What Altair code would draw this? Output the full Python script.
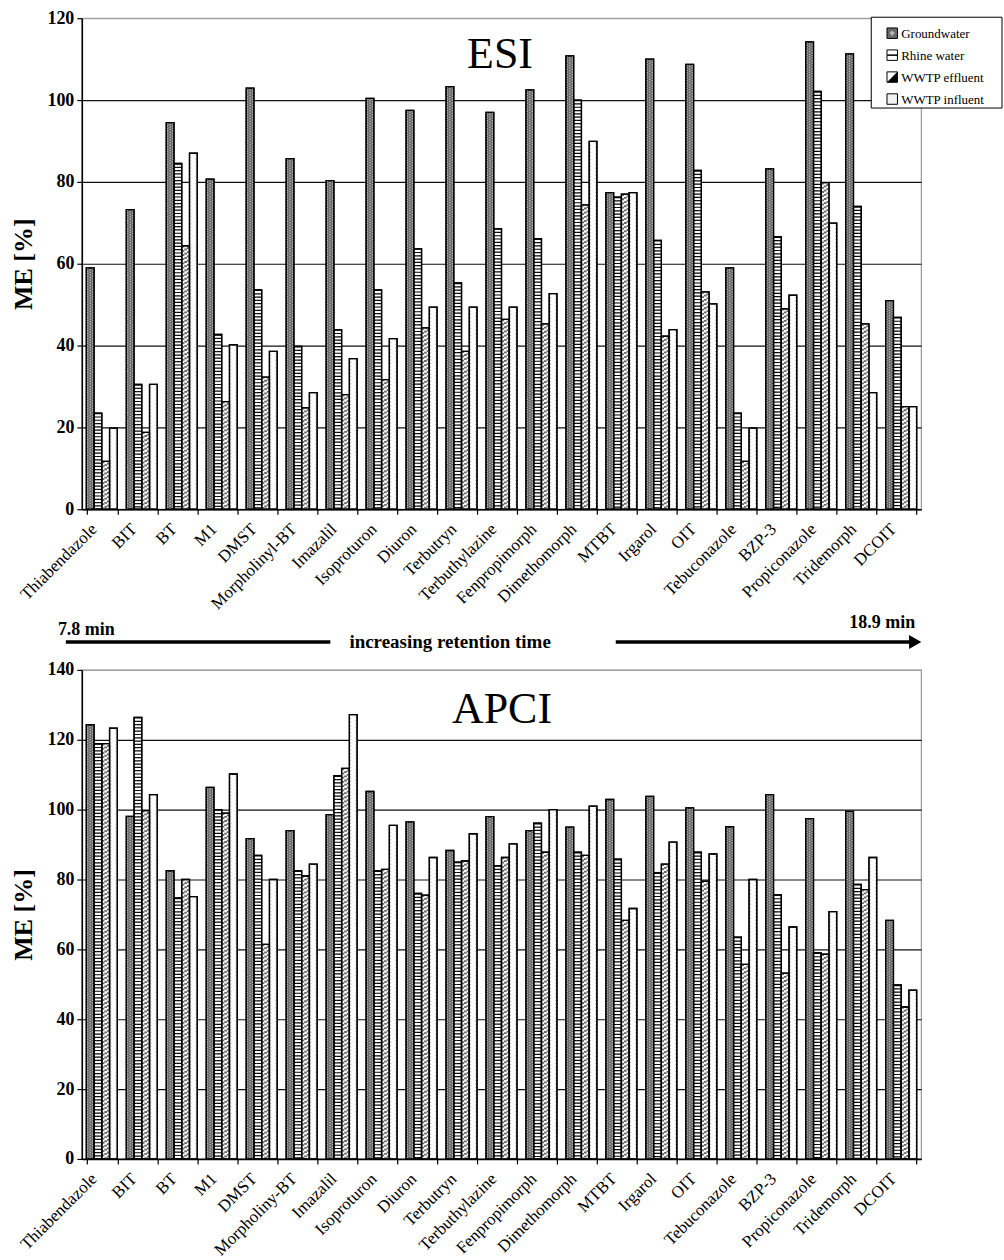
import altair as alt
import pandas as pd

categories_esi = ["Thiabendazole", "BIT", "BT", "M1", "DMST", "Morpholinyl-BT", "Imazalil",
                  "Isoproturon", "Diuron", "Terbutryn", "Terbuthylazine", "Fenpropimorph",
                  "Dimethomorph", "MTBT", "Irgarol", "OIT", "Tebuconazole", "BZP-3",
                  "Propiconazole", "Tridemorph", "DCOIT"]
categories_apci = ["Thiabendazole", "BIT", "BT", "M1", "DMST", "Morpholiny-BT", "Imazalil",
                   "Isoproturon", "Diuron", "Terbutryn", "Terbuthylazine", "Fenpropimorph",
                   "Dimethomorph", "MTBT", "Irgarol", "OIT", "Tebuconazole", "BZP-3",
                   "Propiconazole", "Tridemorph", "DCOIT"]
series_names = ["Groundwater", "Rhine water", "WWTP effluent", "WWTP influent"]

esi_groundwater = [59.0, 73.2, 94.5, 80.7, 102.9, 85.7, 80.3, 100.4, 97.5, 103.3, 97.0, 102.5,
                   110.8, 77.4, 110.0, 108.7, 59.0, 83.2, 114.2, 111.3, 51.0]
esi_rhine = [23.5, 30.5, 84.5, 42.7, 53.6, 39.8, 43.9, 53.6, 63.7, 55.3, 68.6, 66.1,
             100.0, 76.3, 65.7, 82.8, 23.5, 66.6, 102.1, 74.0, 46.9]
esi_effluent = [11.7, 18.8, 64.4, 26.3, 32.3, 24.8, 28.0, 31.7, 44.3, 38.6, 46.4, 45.3,
                74.4, 77.0, 42.3, 53.1, 11.7, 49.0, 79.8, 45.3, 25.1]
esi_influent = [19.8, 30.5, 87.0, 40.2, 38.6, 28.5, 36.8, 41.7, 49.4, 49.4, 49.4, 52.7,
                89.9, 77.4, 43.9, 50.2, 19.8, 52.3, 69.9, 28.5, 25.1]

apci_groundwater = [124.3, 98.1, 82.5, 106.4, 91.7, 94.0, 98.6, 105.2, 96.5, 88.3, 98.0, 94.0,
                    95.0, 102.9, 103.8, 100.5, 95.1, 104.3, 97.4, 99.5, 68.3]
apci_rhine = [118.9, 126.4, 74.7, 100.0, 86.9, 82.5, 109.7, 82.5, 76.0, 85.0, 84.0, 96.1,
              87.8, 85.8, 81.9, 87.8, 63.5, 75.6, 59.0, 78.6, 49.8]
apci_effluent = [118.9, 99.7, 80.0, 99.0, 61.4, 81.0, 111.8, 82.9, 75.5, 85.3, 86.3, 87.8,
                 86.9, 68.3, 84.4, 79.5, 55.7, 53.2, 58.6, 77.1, 43.5]
apci_influent = [123.3, 104.3, 75.1, 110.2, 80.0, 84.4, 127.2, 95.5, 86.3, 93.1, 90.2, 100.0,
                 101.0, 71.7, 90.7, 87.3, 80.0, 66.4, 70.8, 86.3, 48.3]

FONT = "Liberation Serif"
W = 841
SUB_DOMAIN = [f"{s}|{k}" for s in series_names for k in range(3)]


def make_df(cats, series_lists):
    rows = []
    for i, c in enumerate(cats):
        for s, vals in zip(series_names, series_lists):
            rows.append({"category": c, "series": s, "value": vals[i]})
    return pd.DataFrame(rows)


def legend_layers():
    one = pd.DataFrame({"t": ["x"]})
    out = [alt.Chart(one).mark_rect(fill="white", stroke="black", strokeWidth=1).encode(
        x=alt.value(791), x2=alt.value(922), y=alt.value(-1), y2=alt.value(90))]
    sym_fill = ["#6a6a6a", "white", "white", "#f2f2f2"]
    sx = 812
    for i, s in enumerate(series_names):
        yy = 15 + 22 * i
        out.append(alt.Chart(one).mark_square(size=110, fill=sym_fill[i], stroke="black",
                                              strokeWidth=1, opacity=1).encode(
            x=alt.value(sx), y=alt.value(yy)))
        if s == "Rhine water":
            out.append(alt.Chart(one).mark_rule(color="black", strokeWidth=1.5).encode(
                x=alt.value(sx - 5), x2=alt.value(sx + 5), y=alt.value(yy)))
        if s == "WWTP effluent":
            out.append(alt.Chart(one).mark_point(shape="M1,-1L1,1L-1,1Z", filled=True,
                                                 color="black", size=100, opacity=1).encode(
                x=alt.value(sx), y=alt.value(yy)))
        if s == "Groundwater":
            out.append(alt.Chart(one).mark_point(shape="cross", filled=True, color="#bdbdbd",
                                                 size=20, opacity=1).encode(
                x=alt.value(sx), y=alt.value(yy)))
        out.append(alt.Chart(pd.DataFrame({"t": [s]})).mark_text(
            font=FONT, fontSize=13, color="black", align="left", baseline="middle").encode(
            x=alt.value(sx + 9), y=alt.value(yy + 1), text="t:N"))
    return out


def panel(df, cats, ymax, height, label, label_x, label_y, show_legend, extras=None):
    x = alt.X("category:N", sort=cats,
              scale=alt.Scale(domain=cats, paddingInner=0.225, paddingOuter=0.1125),
              axis=alt.Axis(title=None, labelAngle=-45, labelAlign="right", labelBaseline="middle",
                            labelPadding=12, labelOffset=-8, labelFont=FONT, labelFontSize=17,
                            labelColor="black", labelOverlap=False, labelBound=False,
                            tickBand="extent", tickSize=5, tickColor="black", tickWidth=1.2,
                            domainColor="black", domainWidth=1.5, grid=False))
    xo = alt.XOffset("series:N", sort=series_names,
                     scale=alt.Scale(domain=series_names, paddingInner=0, paddingOuter=0))
    xs = alt.XOffset("sub:N", sort=SUB_DOMAIN,
                     scale=alt.Scale(domain=SUB_DOMAIN, paddingInner=0, paddingOuter=0))
    y = alt.Y("value:Q", scale=alt.Scale(domain=[0, ymax], nice=False, zero=True),
              axis=alt.Axis(values=list(range(0, ymax + 1, 20)), title="ME [%]",
                            titleFont=FONT, titleFontSize=26, titleFontWeight="bold",
                            titleColor="black", titleX=-58, titleY=height / 2,
                            titleBaseline="middle", titleAlign="center",
                            labelFont=FONT, labelFontSize=18, labelFontWeight="bold",
                            labelColor="black", labelPadding=3, tickSize=5, tickColor="black",
                            tickWidth=1.2, domainColor="black", domainWidth=1.5,
                            grid=True, gridWidth=1.2,
                            gridColor={"condition": {"test": f"datum.value >= {ymax}",
                                                     "value": "#a0a0a0"},
                                       "value": "#111111"}))
    base = alt.Chart(df)
    fill = alt.Fill("series:N", scale=alt.Scale(domain=series_names,
                                                 range=["#6a6a6a", "white", "white", "white"]),
                    legend=None)
    layers = []
    layers.append(base.mark_bar(stroke="black", strokeWidth=1.3).encode(
        x=x, xOffset=xo, y=y, fill=fill))

    def stripes(series, k, color, width, dash, offset):
        return base.transform_filter(alt.datum.series == series).transform_calculate(
            sub=f"datum.series + '|{k}'").mark_rule(
            stroke=color, strokeWidth=width, strokeDash=dash,
            strokeDashOffset=offset).encode(x=x, xOffset=xs, y=y, y2=alt.datum(0))

    # groundwater: dark with light dots
    layers.append(stripes("Groundwater", 0, "#b8b8b8", 1.3, [1.3, 1.3], 0))
    layers.append(stripes("Groundwater", 1, "#b8b8b8", 1.3, [1.3, 1.3], 1.3))
    layers.append(stripes("Groundwater", 2, "#b8b8b8", 1.3, [1.3, 1.3], 0))
    # Rhine water: horizontal black lines
    for k in range(3):
        layers.append(stripes("Rhine water", k, "black", 2.7, [1.2, 2.1], 0))
    # WWTP effluent: diagonal hatch
    for k in range(3):
        layers.append(stripes("WWTP effluent", k, "#666666", 2.7, [1.8, 2.4], 1.4 * k))
    # WWTP influent: light dots
    layers.append(stripes("WWTP influent", 0, "#a8a8a8", 1.0, [1.0, 2.5], 0))
    layers.append(stripes("WWTP influent", 2, "#a8a8a8", 1.0, [1.0, 2.5], 1.75))
    # outlines on top
    layers.append(base.mark_bar(stroke="black", strokeWidth=1.3, fillOpacity=0).encode(
        x=x, xOffset=xo, y=y))

    if show_legend:
        layers.extend(legend_layers())

    title_df = pd.DataFrame({"t": [label]})
    layers.append(alt.Chart(title_df).mark_text(font=FONT, fontSize=44, color="black",
                                                baseline="alphabetic", align="center").encode(
        x=alt.value(label_x), y=alt.value(label_y), text="t:N"))
    if extras:
        layers.extend(extras)

    return alt.layer(*layers).resolve_scale(xOffset="independent").properties(
        width=W, height=height)


one = pd.DataFrame({"t": ["7.8 min"]})
extras_top = [
    alt.Chart(pd.DataFrame({"t": ["7.8 min"]})).mark_text(
        font=FONT, fontSize=18, fontWeight="bold", color="black", align="left",
        baseline="middle").encode(x=alt.value(-24), y=alt.value(613), text="t:N"),
    alt.Chart(pd.DataFrame({"t": ["18.9 min"]})).mark_text(
        font=FONT, fontSize=18, fontWeight="bold", color="black", align="right",
        baseline="middle").encode(x=alt.value(835), y=alt.value(606), text="t:N"),
    alt.Chart(pd.DataFrame({"t": ["increasing retention time"]})).mark_text(
        font=FONT, fontSize=19, fontWeight="bold", color="black", align="center",
        baseline="middle").encode(x=alt.value(369), y=alt.value(625), text="t:N"),
    alt.Chart(one).mark_rule(color="black", strokeWidth=3.5).encode(
        x=alt.value(-16), x2=alt.value(249), y=alt.value(625)),
    alt.Chart(one).mark_rule(color="black", strokeWidth=3.5).encode(
        x=alt.value(535), x2=alt.value(830), y=alt.value(625)),
    alt.Chart(one).mark_point(shape="triangle-right", filled=True, color="black",
                              size=200, opacity=1).encode(
        x=alt.value(835), y=alt.value(625)),
]

df_esi = make_df(categories_esi, [esi_groundwater, esi_rhine, esi_effluent, esi_influent])
df_apci = make_df(categories_apci, [apci_groundwater, apci_rhine, apci_effluent, apci_influent])

top = panel(df_esi, categories_esi, 120, 492, "ESI", 419, 50, True, extras_top)
bottom = panel(df_apci, categories_apci, 140, 490, "APCI", 421, 53, False)

chart = alt.vconcat(top, bottom, spacing=161, bounds="flush").resolve_scale(
    x="independent", y="independent", fill="independent").configure_view(
    stroke="#a0a0a0", strokeWidth=1.3).properties(
    padding={"left": 10, "top": 7, "right": 0, "bottom": 0}, background="white")

chart.save("out.html", embed_options={"renderer": "svg", "actions": False})
